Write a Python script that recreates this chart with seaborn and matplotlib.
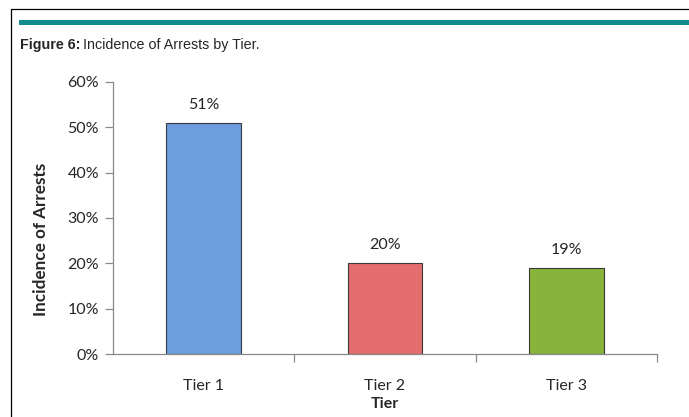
import matplotlib
matplotlib.use("Agg")
import matplotlib.pyplot as plt
import seaborn as sns
import pandas as pd
from matplotlib.lines import Line2D
from matplotlib.patches import Rectangle

categories = ["Tier 1", "Tier 2", "Tier 3"]
values = [51, 20, 19]
value_labels = ["51%", "20%", "19%"]
yticks = [0, 10, 20, 30, 40, 50, 60]
ytick_labels = ["0%", "10%", "20%", "30%", "40%", "50%", "60%"]
colors = ["#6C9DDF", "#E46D6D", "#88B43B"]

sns.set_theme(style="white")
plt.rcParams['font.family'] = ['Lato', 'DejaVu Sans']

W, H = 689, 417
fig = plt.figure(figsize=(W / 100, H / 100), dpi=100)

# frame lines
fig.add_artist(Line2D([11 / W, 1], [1 - 9 / H, 1 - 9 / H], color="black", lw=0.9))
fig.add_artist(Line2D([11 / W, 11 / W], [0, 1 - 9 / H], color="black", lw=0.9))
fig.add_artist(Rectangle((19 / W, 1 - 25 / H), 1 - 19 / W, 5 / H, color="#148B8B", lw=0))

t1 = fig.text(20 / W, 1 - 45 / H, "Figure 6:", fontsize=10.3, fontweight="bold",
              family="Liberation Sans", va="center", ha="left")
fig.canvas.draw()
bb = t1.get_window_extent()
fig.text((bb.x1 + 3) / W, 1 - 45 / H, "Incidence of Arrests by Tier.", fontsize=10.3,
         family="Liberation Sans", va="center", ha="left")

FS = 11.5
ax = fig.add_axes([113 / W, 63 / H, (657 - 113) / W, (354 - 82) / H])
df = pd.DataFrame({"Tier": categories, "Value": values})
sns.barplot(data=df, x="Tier", y="Value", hue="Tier", palette=colors, legend=False,
            width=0.41, edgecolor="#3a3a3a", linewidth=0.8, ax=ax, saturation=1)

ax.set_xlim(-0.5, 2.5)
ax.set_ylim(0, 60)
ax.set_yticks(yticks)
ax.set_yticklabels(ytick_labels, fontsize=FS)
ax.set_xticks([0, 1, 2])
ax.set_xticklabels(categories, fontsize=FS)
ax.tick_params(axis="x", length=0, pad=18)
ax.tick_params(axis="y", length=6, color="#888888", width=0.9, left=True, pad=4)
ax.set_xticks([0.5, 1.5, 2.5], minor=True)
ax.tick_params(axis="x", which="minor", length=6, color="#888888", width=0.9, bottom=True)

for s in ["top", "right"]:
    ax.spines[s].set_visible(False)
for s in ["left", "bottom"]:
    ax.spines[s].set_color("#888888")
    ax.spines[s].set_linewidth(0.9)

for i, (v, lab) in enumerate(zip(values, value_labels)):
    ax.annotate(lab, (i, v), xytext=(0, 8), textcoords="offset points",
                ha="center", va="bottom", fontsize=FS)

ax.set_xlabel("Tier", fontsize=FS, fontweight="bold", labelpad=3)
ax.set_ylabel("Incidence of Arrests", fontsize=12.3, fontweight="bold", labelpad=13)
ax.yaxis.set_label_coords(-(113 - 49) / (657 - 113), 0.42)

fig.savefig("out.png", dpi=100)
